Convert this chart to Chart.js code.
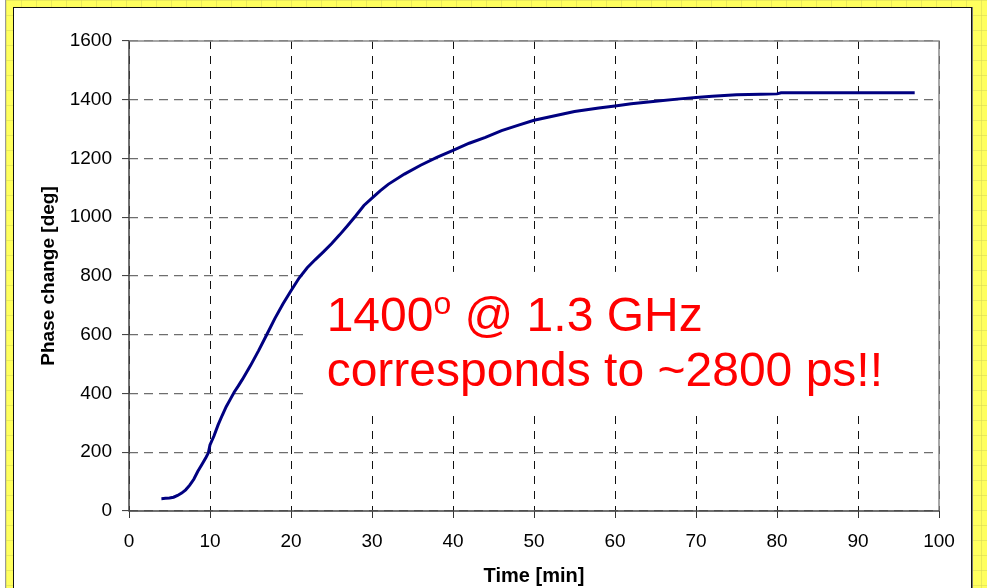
<!DOCTYPE html>
<html>
<head>
<meta charset="utf-8">
<script src="https://cdn.jsdelivr.net/npm/chart.js@4.4.0/dist/chart.umd.min.js"></script>
<style>
  html, body { margin: 0; padding: 0; background: #fff; overflow: hidden; }
  #frame {
    position: absolute; left: 5px; top: 0; width: 982px; height: 588px;
    border-left: 1px solid #9a9a9a;
    background-color: #ffff5e;
    background-image:
      linear-gradient(to right, rgba(215, 215, 90, 0.55) 1px, transparent 1px),
      linear-gradient(to bottom, rgba(215, 215, 90, 0.55) 1px, transparent 1px);
    background-size: 15px 15px;
  }
  #panel {
    position: absolute; left: 13px; top: 7px; width: 957px; height: 600px;
    background: #fff;
    border: 1px solid #111; border-bottom: none;
    box-shadow: 1px 0 0 #777;
  }
  #wrap { position: absolute; left: 0; top: 0; width: 987px; height: 588px; }
</style>
</head>
<body>
<div id="frame"></div>
<div id="panel"></div>
<div id="wrap"><canvas id="myChart" width="987" height="588"></canvas></div>
<script>
// time in minutes
const time = [4.0, 4.5, 5.0, 5.5, 6.0, 6.5, 7.0, 7.5, 8.0, 8.5, 9.0, 9.5, 9.8, 10.0, 10.5, 11, 11.5, 12, 12.5,
  13, 13.5, 14, 15, 16, 17, 18, 19, 20, 21, 22, 23, 24, 25, 26, 27, 28, 29, 30, 31, 32, 34, 36, 38, 40,
  42, 44, 46, 48, 50, 52, 55, 58, 60, 62, 65, 68, 70, 72, 75, 78, 80, 80.5, 85, 90, 97];
// phase change in degrees
const phase = [42, 43, 44, 47, 53, 61, 72, 88, 108, 135, 158, 182, 198, 225, 256, 293, 325, 355, 380,
  405, 426, 448, 495, 546, 600, 655, 705, 750, 793, 828, 856, 882, 910, 940, 972, 1005, 1040, 1065, 1090, 1112, 1147, 1177, 1204, 1228,
  1252, 1272, 1295, 1313, 1330, 1342, 1360, 1372, 1379, 1386, 1395, 1403, 1408, 1412, 1417, 1419, 1420, 1424, 1424, 1424, 1424];

const xTitle = 'Time [min]';
const yTitle = 'Phase change [deg]';
const noteLine1 = ['1400', 'o', ' @ 1.3 GHz'];
const noteLine2 = 'corresponds to ~2800 ps!!';

const FONT = "'Liberation Sans', Arial, sans-serif";

// plot frame, white note box and the red note
const extras = {
  id: 'extras',
  beforeDatasetsDraw(chart) {
    const {ctx, chartArea, scales: {x, y}} = chart;
    const left = x.getPixelForValue(21.7), top = y.getPixelForValue(814);
    const bottom = y.getPixelForValue(344);
    ctx.save();
    ctx.fillStyle = '#fff';
    ctx.fillRect(left, top, chartArea.right - 1 - left, bottom - top);

    const a = chartArea;
    ctx.lineWidth = 1.5;
    ctx.strokeStyle = '#8a8a8a';
    ctx.beginPath();
    ctx.moveTo(a.left, a.top);
    ctx.lineTo(a.right, a.top);
    ctx.lineTo(a.right, a.bottom);
    ctx.stroke();
    ctx.strokeStyle = '#444';
    ctx.beginPath();
    ctx.moveTo(a.left, a.top);
    ctx.lineTo(a.left, a.bottom);
    ctx.lineTo(a.right, a.bottom);
    ctx.stroke();
    ctx.restore();
  },
  afterDraw(chart) {
    const {ctx, scales: {x, y}} = chart;
    ctx.save();
    ctx.fillStyle = '#ff0000';
    ctx.textBaseline = 'alphabetic';
    ctx.textAlign = 'left';
    let tx = x.getPixelForValue(24.4);
    const b1 = y.getPixelForValue(613), b2 = y.getPixelForValue(425);
    ctx.font = '48px ' + FONT;
    ctx.fillText(noteLine1[0], tx, b1);
    tx += ctx.measureText(noteLine1[0]).width;
    ctx.font = '32px ' + FONT;
    ctx.fillText(noteLine1[1], tx, b1 - 17);
    tx += ctx.measureText(noteLine1[1]).width;
    ctx.font = '48px ' + FONT;
    ctx.fillText(noteLine1[2], tx, b1);
    ctx.fillText(noteLine2, x.getPixelForValue(24.4), b2);
    ctx.restore();
  }
};

const ctx = document.getElementById('myChart').getContext('2d');
new Chart(ctx, {
  type: 'line',
  data: {
    datasets: [{
      data: time.map((t, i) => ({x: t, y: phase[i]})),
      borderColor: '#000080',
      borderWidth: 3,
      pointRadius: 0,
      tension: 0,
      fill: false
    }]
  },
  options: {
    responsive: false,
    animation: false,
    events: [],
    layout: { padding: { top: 41, right: 48, left: 0, bottom: 0 } },
    plugins: { legend: { display: false }, tooltip: { enabled: false } },
    scales: {
      x: {
        type: 'linear', min: 0, max: 100,
        afterFit(s) { s.height = 77; },
        ticks: { stepSize: 10, color: '#000', padding: 12, maxRotation: 0,
          font: { family: FONT, size: 19 } },
        grid: { color: '#111', lineWidth: 1, tickLength: 7, tickColor: '#333', tickWidth: 1 },
        border: { display: false, dash: [8, 7] },
        title: { display: true, text: xTitle, color: '#000',
          font: { family: FONT, size: 20, weight: 'bold' }, padding: { top: 0, bottom: 0 } }
      },
      y: {
        min: 0, max: 1600,
        afterFit(s) { s.width = 129; },
        ticks: { stepSize: 200, color: '#000', padding: 10,
          format: { useGrouping: false },
          font: { family: FONT, size: 19 } },
        grid: { color: '#6e6e6e', lineWidth: 1.2, tickLength: 7, tickColor: '#333', tickWidth: 1 },
        border: { display: false, dash: [9, 6] },
        title: { display: true, text: yTitle, color: '#000',
          font: { family: FONT, size: 19, weight: 'bold' }, padding: { top: 37, bottom: 0 } }
      }
    }
  },
  plugins: [extras]
});
</script>
</body>
</html>
